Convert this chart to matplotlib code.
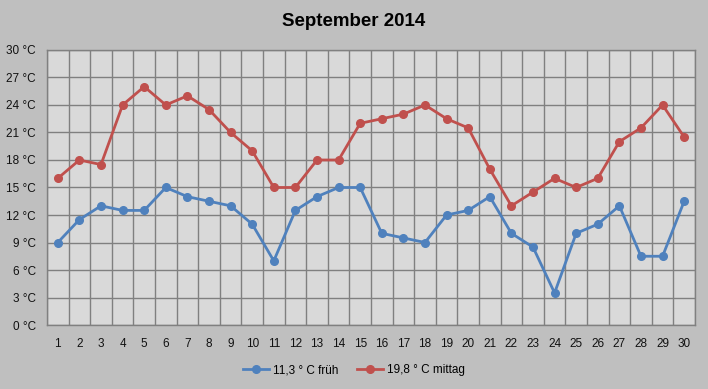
import numpy as np
import matplotlib.pyplot as plt

days = list(range(1, 31))
frueh = [9, 11.5, 13, 12.5, 12.5, 15, 14, 13.5, 13, 11,
         7, 12.5, 14, 15, 15, 10, 9.5, 9, 12, 12.5,
         14, 10, 8.5, 3.5, 10, 11, 13, 7.5, 7.5, 13.5]
mittag = [16, 18, 17.5, 24, 26, 24, 25, 23.5, 21, 19,
          15, 15, 18, 18, 22, 22.5, 23, 24, 22.5, 21.5,
          17, 13, 14.5, 16, 15, 16, 20, 21.5, 24, 20.5]
yticks = list(range(0, 31, 3))
labels = ['11,3 ° C früh', '19,8 ° C mittag']

plt.rcParams['font.family'] = ['Liberation Sans', 'DejaVu Sans']

fig = plt.figure(figsize=(7.08, 3.89), dpi=100, facecolor='#bfbfbf')
ax = fig.add_axes([0.0664, 0.1645, 0.9152, 0.707])
ax.set_facecolor('#d9d9d9')

ax.plot(days, frueh, color='#4f81bd', lw=2, marker='o', ms=5.5, label=labels[0], zorder=3)
ax.plot(days, mittag, color='#c0504d', lw=2, marker='o', ms=5.5, label=labels[1], zorder=3)

ax.set_xlim(0.5, 30.5)
ax.set_ylim(0, 30)
ax.set_xticks(days)
ax.set_xticks(np.arange(0.5, 31, 1), minor=True)
ax.set_yticks(yticks)
ax.set_yticklabels([f'{v} °C' for v in yticks])
ax.tick_params(axis='both', which='both', length=0, labelsize=8.5, colors='#111111')
ax.tick_params(axis='x', pad=9)
ax.tick_params(axis='y', pad=8)
ax.grid(True, which='minor', axis='x', color='#808080', lw=1)
ax.grid(True, which='major', axis='y', color='#808080', lw=1)
ax.set_axisbelow(True)
for s in ax.spines.values():
    s.set_color('#808080')
    s.set_linewidth(1)

fig.text(0.5, 0.945, 'September 2014', ha='center', va='center',
         fontsize=13.5, fontweight='bold')
fig.legend(loc='center', bbox_to_anchor=(0.5, 0.048), ncol=2, frameon=False,
           fontsize=8.5, handlelength=2.2, columnspacing=1.6, handletextpad=0.3)

fig.savefig('out.png', dpi=100, facecolor=fig.get_facecolor(), edgecolor='#888888')
